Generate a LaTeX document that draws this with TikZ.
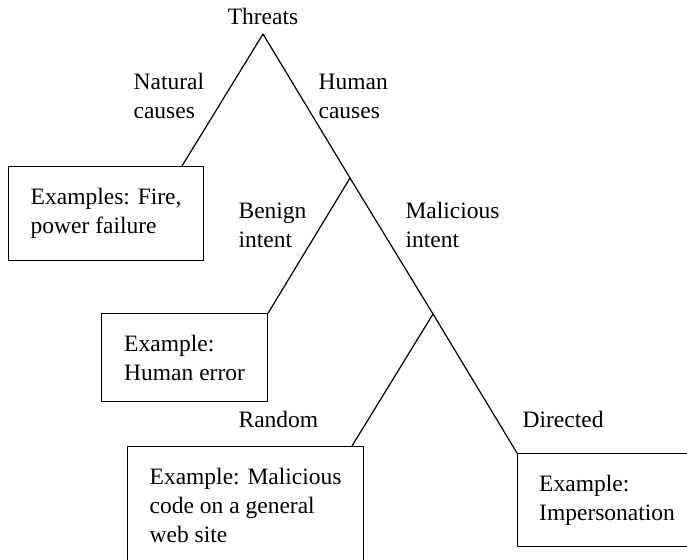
\documentclass[tikz,border=0pt]{standalone}
\usepackage{fontspec}
\setmainfont{Liberation Serif}
\usepackage{tikz}
\tikzstyle{leaf}=[rectangle,draw=black,anchor=north west,align=left,inner xsep=10.5pt,inner ysep=0pt]
\tikzstyle{cause}=[anchor=west,align=left,inner sep=0pt]
\tikzset{every picture/.style={
    line width=0.6pt, x=0.5pt, y=-0.5pt
  },
  every node/.style={font=\fontsize{11.75}{14.5}\selectfont}
}

\begin{document}
\begin{tikzpicture}
      \useasboundingbox (0,0) rectangle (687,560);
      \clip (0,0) rectangle (687,560);
      \node[anchor=south,inner xsep=0pt,inner ysep=4.5pt] at (263,34) (threats) {Threats};
      \node[cause] at (133,96) (natural) {Natural\\causes};
      \node[cause] at (318,96) (human) {Human\\causes};
      \node[cause] at (238,225) (benign) {Benign\\intent};
      \node[cause] at (405,225) (malicious) {Malicious\\intent};
      \node[cause] at (238,419) (random) {Random};
      \node[cause] at (522,419) (directed) {Directed};
      \node[leaf,minimum width=97.5pt,minimum height=47pt] at (8,166) (fire) {Examples: Fire,\\power failure};
      \node[leaf,minimum width=83pt,minimum height=44pt] at (101,313) (error) {Example:\\Human error};
      \node[leaf,minimum width=118pt,minimum height=59pt] at (127,446) (code) {Example: Malicious\\code on a general\\web site};
      \node[leaf,minimum width=89.5pt,minimum height=46.5pt] at (517,453) (imp) {Example:\\Impersonation};
      \coordinate (j1) at (350,178);
      \coordinate (j2) at (433,314);
      \coordinate (fireend) at (182,166);
      \coordinate (codeend) at (352,446);
      \draw (threats.south) -- (fireend);
      \draw (threats.south) -- (j1) -- (j2) -- (imp.north west);
      \draw (j1) -- (error.north east);
      \draw (j2) -- (codeend);
    \end{tikzpicture}
\end{document}
